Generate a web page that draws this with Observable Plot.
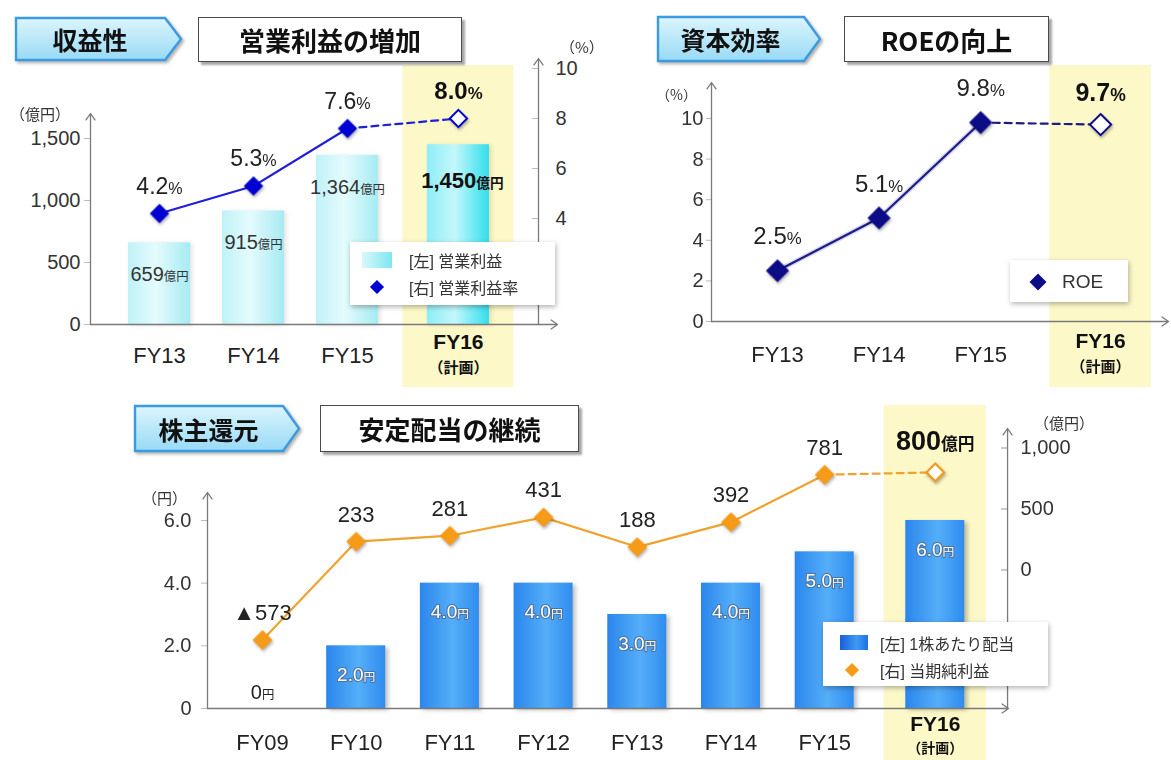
<!DOCTYPE html>
<html>
<head>
<meta charset="utf-8">
<script src="https://cdn.jsdelivr.net/npm/d3@7"></script>
<script src="https://cdn.jsdelivr.net/npm/@observablehq/plot@0.6"></script>
<style>
  html, body { margin: 0; padding: 0; background: #fff; }
  #page { position: relative; width: 1171px; height: 760px; overflow: hidden; background: #fff;
          font-family: "Liberation Sans", "Noto Sans CJK JP", sans-serif; color: #222; }
  .banner { position: absolute; filter: drop-shadow(2px 2px 1.5px rgba(0,0,0,.3)); }
  .banner svg { position: absolute; left: 0; top: 0; overflow: visible; }
  .banner span { position: absolute; left: 0; top: 0; height: 100%; display: flex; align-items: center;
                 justify-content: center; font: bold 25px "Noto Sans CJK JP", sans-serif; color: #111; }
  .tbox { position: absolute; box-sizing: border-box; background: #fff; border: 1.6px solid #4a4a4a;
          box-shadow: 3px 3px 2px rgba(0,0,0,.35); display: flex; align-items: center; justify-content: center;
          font: bold 26px "Noto Sans CJK JP", sans-serif; color: #111; }
  .unit { position: absolute; font-size: 15px; color: #333; white-space: nowrap; transform: translateY(-50%);
          font-family: "Noto Sans CJK JP", "Liberation Sans", sans-serif; }
  .legend { position: absolute; background: #fff; box-shadow: 1px 2px 5px rgba(0,0,0,.3); }
  .legend .lab { position: absolute; white-space: nowrap; transform: translateY(-50%); color: #333;
                 font-size: 16px; font-family: "Liberation Sans", "Noto Sans CJK JP", sans-serif; }
  .legend .sw { position: absolute; }
  .legend .dia { position: absolute; transform: translate(-50%, -50%) rotate(45deg); }
</style>
</head>
<body>
<svg width="0" height="0" style="position:absolute">
  <defs>
    <linearGradient id="gCyan" x1="0" x2="1" y1="0" y2="0">
      <stop offset="0" stop-color="#bff2f7"/>
      <stop offset="0.45" stop-color="#e4fbfd"/>
      <stop offset="1" stop-color="#a6ebf3"/>
    </linearGradient>
    <linearGradient id="gCyanPlan" x1="0" x2="1" y1="0" y2="0">
      <stop offset="0" stop-color="#8eeef6"/>
      <stop offset="0.45" stop-color="#c4f7fb"/>
      <stop offset="1" stop-color="#2fdfec"/>
    </linearGradient>
    <linearGradient id="gBlue" x1="0" x2="1" y1="0" y2="0">
      <stop offset="0" stop-color="#2a86ec"/>
      <stop offset="0.55" stop-color="#55aef8"/>
      <stop offset="1" stop-color="#2f8cef"/>
    </linearGradient>
    <linearGradient id="gBanner" x1="0" x2="0" y1="0" y2="1">
      <stop offset="0" stop-color="#dcf5fd"/>
      <stop offset="1" stop-color="#98daf5"/>
    </linearGradient>
  </defs>
</svg>
<div id="page"></div>
<script>
// ---- data -------------------------------------------------------------
// 営業利益 (億円, left axis) and 営業利益率 (%, right axis)
const opYears = ["FY13", "FY14", "FY15", "FY16"];
const opIncome = [659, 915, 1364, 1450];
const opMargin = [4.2, 5.3, 7.6, 8.0];

// ROE (%)
const roeYears = ["FY13", "FY14", "FY15", "FY16"];
const roeValues = [2.5, 5.1, 9.8, 9.7];

// 1株あたり配当 (円, left axis) and 当期純利益 (億円, right axis)
const divYears = ["FY09", "FY10", "FY11", "FY12", "FY13", "FY14", "FY15", "FY16"];
const dividend = [0, 2.0, 4.0, 4.0, 3.0, 4.0, 5.0, 6.0];
const netIncome = [-573, 233, 281, 431, 188, 392, 781, 800];

const planYear = "FY16";
const planNote = "（計画）";

// axis ticks
const opTicks = [0, 500, 1000, 1500];
const marginTicks = [4, 6, 8, 10];
const roeTicks = [0, 2, 4, 6, 8, 10];
const divTicks = [0, 2, 4, 6];
const netTicks = [0, 500, 1000];

// headings
const titles = {
  op: ["収益性", "営業利益の増加"],
  roe: ["資本効率", "ROEの向上"],
  div: ["株主還元", "安定配当の継続"]
};

// ---- layout -----------------------------------------------------------
const W = 1171, H = 760;
const FONT = '"Liberation Sans", "Noto Sans CJK JP", sans-serif';
const JP = '"Noto Sans CJK JP", "Liberation Sans", sans-serif';
const PLAN_GAP = 0.18;          // extra room before the plan column
const AXIS = "#7a7a7a";

// pixel frames for the three panels
const L1 = {axisLeft: 90, axisRight: 538, xEnd: 557, first: 159, step: 94, base: 324, bandTop: 65, bandBottom: 387};
const L2 = {axisLeft: 711, axisRight: 1168, xEnd: 1168, first: 777, step: 101.6, base: 321, bandTop: 65, bandBottom: 387};
const L3 = {axisLeft: 207, axisRight: 1007, xEnd: 1008, first: 262, step: 93.7, base: 708, bandTop: 405, bandBottom: 760};

// value -> pixel anchors for each vertical scale
const Y1L = {v0: 0, p0: 324, v1: 1500, p1: 138, top: 113};
const Y1R = {v0: 4, p0: 218, v1: 10, p1: 68, top: 58};
const Y2 = {v0: 0, p0: 321, v1: 10, p1: 118, top: 82};
const Y3L = {v0: 0, p0: 708, v1: 6, p1: 520, top: 492};
const Y3R = {v0: 0, p0: 569.5, v1: 1000, p1: 447.5, top: 428};

const layerStyle = {position: "absolute", left: "0px", top: "0px", background: "transparent",
                    overflow: "visible", maxWidth: "none", fontFamily: FONT};

function rows(years, a, b) {
  return years.map((year, i) => {
    const plan = year === planYear;
    return {year, plan, pos: i + (plan ? PLAN_GAP : 0), a: a ? a[i] : undefined, b: b ? b[i] : undefined};
  });
}
function px2v(m, p) { const k = (m.p1 - m.p0) / (m.v1 - m.v0); return m.v0 + (p - m.p0) / k; }
function xScale(L) {
  return {type: "linear", domain: [(L.axisLeft - L.first) / L.step, (L.xEnd - L.first) / L.step],
          range: [L.axisLeft, L.xEnd], axis: null};
}
function yScale(m, bottom) {
  return {type: "linear", domain: [px2v(m, bottom), px2v(m, m.top)], range: [bottom, m.top], label: null};
}
function frame(L) {
  return {width: W, height: H, marginLeft: L.axisLeft, marginRight: W - L.axisRight,
          marginTop: L.bandTop, marginBottom: H - L.bandBottom, style: layerStyle};
}
function arrow(xa, ya, xb, yb) {
  return Plot.arrow([0], {x1: () => xa, y1: () => ya, x2: () => xb, y2: () => yb,
                          stroke: AXIS, strokeWidth: 1.3, headLength: 9, headAngle: 70});
}
function yearLabels(data, yBase, dyYear, dyPlan, dyNote, noteSize = 15) {
  const plan = data.filter(d => d.plan), past = data.filter(d => !d.plan);
  return [
    Plot.text(past, {x: "pos", y: () => yBase, text: "year", dy: dyYear, fontSize: 22, fill: "#222", fontFamily: FONT}),
    Plot.text(plan, {x: "pos", y: () => yBase, text: "year", dy: dyPlan, fontSize: 21, fontWeight: "bold", fill: "#111", fontFamily: FONT}),
    Plot.text(plan, {x: "pos", y: () => yBase, text: () => planNote, dy: dyNote, fontSize: noteSize, fontWeight: "bold", fill: "#111", fontFamily: JP})
  ];
}
// smaller unit suffix (%, 円, 億円) after a value
function styleUnits(svg) {
  const ns = "http://www.w3.org/2000/svg";
  svg.querySelectorAll("text").forEach(t => {
    const m = t.textContent.match(/^([▲\d.,]+)(億円|円|%)$/);
    if (!m) return;
    t.textContent = "";
    const a = document.createElementNS(ns, "tspan");
    a.textContent = m[1];
    const b = document.createElementNS(ns, "tspan");
    b.textContent = m[2];
    b.setAttribute("font-size", m[2] === "%" ? "0.7em" : "0.62em");
    if (m[2] !== "%") b.setAttribute("font-family", JP);
    t.append(a, b);
  });
}
function shadow(svg, desc, css) {
  svg.querySelectorAll(`g[aria-description="${desc}"]`).forEach(g => g.style.filter = css);
}

const page = document.getElementById("page");
function add(svg) { styleUnits(svg); page.append(svg); return svg; }

// ---- panel 1: 営業利益 / 営業利益率 -----------------------------------------
{
  const d = rows(opYears, opIncome, opMargin);
  const xs = xScale(L1), yl = yScale(Y1L, L1.base), yr = yScale(Y1R, L1.base);
  const past = d.filter(r => !r.plan), plan = d.filter(r => r.plan);
  const bars = add(Plot.plot({
    ...frame(L1), x: xs, y: yl,
    marks: [
      Plot.rect(plan, {x1: r => r.pos - 0.59, x2: r => r.pos + 0.59, fill: "#fcf8c8"}),
      Plot.rect(past, {x1: r => r.pos - 0.33, x2: r => r.pos + 0.33, y1: () => 0, y2: "a", fill: "url(#gCyan)", ariaDescription: "bars"}),
      Plot.rect(plan, {x1: r => r.pos - 0.33, x2: r => r.pos + 0.33, y1: () => 0, y2: "a", fill: "url(#gCyanPlan)", ariaDescription: "bars"}),
      Plot.axisY(opTicks, {anchor: "left", tickFormat: d3.format(","), tickSize: 6, tickPadding: 4,
                           fontSize: 20, stroke: "#bbb", fill: "#333", label: null}),
      arrow(xs.domain[0], yl.domain[0], xs.domain[0], yl.domain[1]),
      arrow(xs.domain[0], yl.domain[0], xs.domain[1], yl.domain[0]),
      ...yearLabels(d, 0, 31, 18, 44),
      Plot.text(past, {x: "pos", y: "a", text: r => d3.format(",")(r.a) + "億円", dy: 32, fontSize: 20, fill: "#333"}),
      Plot.text(plan, {x: "pos", y: "a", text: r => d3.format(",")(r.a) + "億円", dy: 36, dx: 4, fontSize: 22, fontWeight: "bold", fill: "#111"})
    ]
  }));
  shadow(bars, "bars", "drop-shadow(2px 1px 2px rgba(0,0,0,.12))");

  const xr = (L1.axisRight - L1.first) / L1.step;
  const line = add(Plot.plot({
    ...frame(L1), x: xs, y: yr,
    marks: [
      Plot.axisY(marginTicks, {anchor: "right", tickSize: -7, tickPadding: 24, fontSize: 20,
                               stroke: "#bbb", fill: "#333", label: null}),
      arrow(xr, yr.domain[0], xr, yr.domain[1]),
      Plot.line(past, {x: "pos", y: "b", stroke: "#1f1fd8", strokeWidth: 2.2}),
      Plot.line(d.slice(-2), {x: "pos", y: "b", stroke: "#1f1fd8", strokeWidth: 2.2, strokeDasharray: "7,5"}),
      Plot.dot(past, {x: "pos", y: "b", symbol: "diamond2", r: 7.8, fill: "#0000d2", stroke: "#0000d2", ariaDescription: "dots"}),
      Plot.dot(plan, {x: "pos", y: "b", symbol: "diamond2", r: 7.8, fill: "#fff", stroke: "#0000d2", strokeWidth: 2, ariaDescription: "dots"}),
      Plot.text(past, {x: "pos", y: "b", text: r => r.b.toFixed(1) + "%", dy: -27, fontSize: 23, fill: "#222"}),
      Plot.text(plan, {x: "pos", y: "b", text: r => r.b.toFixed(1) + "%", dy: -27, fontSize: 24, fontWeight: "bold", fill: "#111"})
    ]
  }));
  shadow(line, "dots", "drop-shadow(1px 2px 1.5px rgba(0,0,0,.3))");
}

// ---- panel 2: ROE ----------------------------------------------------------
{
  const d = rows(roeYears, roeValues);
  const xs = xScale(L2), ys = yScale(Y2, L2.base);
  const past = d.filter(r => !r.plan), plan = d.filter(r => r.plan);
  const svg = add(Plot.plot({
    ...frame(L2), x: xs, y: ys,
    marks: [
      Plot.rect(plan, {x1: r => r.pos - 0.5, x2: r => r.pos + 0.5, fill: "#fcf8c8"}),
      Plot.axisY(roeTicks, {anchor: "left", tickSize: 5, tickPadding: 3, fontSize: 20,
                            stroke: "#bbb", fill: "#333", label: null}),
      arrow(xs.domain[0], ys.domain[0], xs.domain[0], ys.domain[1]),
      arrow(xs.domain[0], ys.domain[0], xs.domain[1], ys.domain[0]),
      ...yearLabels(d, 0, 33, 20, 46),
      Plot.line(past, {x: "pos", y: "a", stroke: "#d6d6ee", strokeWidth: 5}),
      Plot.line(past, {x: "pos", y: "a", stroke: "#1c1c84", strokeWidth: 2.2}),
      Plot.line(d.slice(-2), {x: "pos", y: "a", stroke: "#1c1c84", strokeWidth: 2.2, strokeDasharray: "7,5"}),
      Plot.dot(past, {x: "pos", y: "a", symbol: "diamond2", r: 9.5, fill: "#0c0c86", stroke: "#0c0c86", ariaDescription: "dots"}),
      Plot.dot(plan, {x: "pos", y: "a", symbol: "diamond2", r: 9.5, fill: "#fff", stroke: "#0c0c86", strokeWidth: 2, ariaDescription: "dots"}),
      Plot.text(past, {x: "pos", y: "a", text: r => r.a.toFixed(1) + "%", dy: -34, fontSize: 24, fill: "#222"}),
      Plot.text(plan, {x: "pos", y: "a", text: r => r.a.toFixed(1) + "%", dy: -32, fontSize: 25, fontWeight: "bold", fill: "#111"})
    ]
  }));
  shadow(svg, "dots", "drop-shadow(1px 2px 1.5px rgba(0,0,0,.3))");
}

// ---- panel 3: 配当 / 当期純利益 --------------------------------------------
{
  const d = rows(divYears, dividend, netIncome);
  const xs = xScale(L3), yl = yScale(Y3L, L3.base), yr = yScale(Y3R, L3.base);
  const past = d.filter(r => !r.plan), plan = d.filter(r => r.plan);
  const paid = d.filter(r => r.a > 0), none = d.filter(r => r.a === 0);
  const bars = add(Plot.plot({
    ...frame(L3), x: xs, y: yl,
    marks: [
      Plot.rect(plan, {x1: r => r.pos - 0.545, x2: r => r.pos + 0.545, fill: "#fcf8c8"}),
      Plot.rect(paid, {x1: r => r.pos - 0.315, x2: r => r.pos + 0.315, y1: () => 0, y2: "a", fill: "url(#gBlue)", ariaDescription: "bars"}),
      Plot.axisY(divTicks, {anchor: "left", tickFormat: v => v === 0 ? "0" : v.toFixed(1), tickSize: 6, tickPadding: 10,
                            fontSize: 20, stroke: "#bbb", fill: "#333", label: null}),
      arrow(xs.domain[0], yl.domain[0], xs.domain[0], yl.domain[1]),
      arrow(xs.domain[0], yl.domain[0], xs.domain[1], yl.domain[0]),
      ...yearLabels(d, 0, 34, 16, 40, 14),
      Plot.text(paid, {x: "pos", y: "a", text: r => r.a.toFixed(1) + "円", dy: 29, fontSize: 19, fill: "#fff",
                       stroke: "#4d73a0", strokeWidth: 2.2, paintOrder: "stroke"}),
      Plot.text(none, {x: "pos", y: "a", text: () => "0円", dy: -16, fontSize: 20, fill: "#222"})
    ]
  }));
  shadow(bars, "bars", "drop-shadow(3px 2px 2px rgba(0,0,0,.25))");

  const netFmt = v => v < 0 ? "▲" + (-v) : String(v);
  const line = add(Plot.plot({
    ...frame(L3), x: xs, y: yr,
    marks: [
      Plot.axisY(netTicks, {anchor: "right", tickFormat: d3.format(","), tickSize: -7, tickPadding: 20,
                            fontSize: 20, stroke: "#999", fill: "#333", label: null}),
      arrow(xs.domain[1] - 0.01, yr.domain[0], xs.domain[1] - 0.01, yr.domain[1]),
      Plot.line(past, {x: "pos", y: "b", stroke: "#f0a22e", strokeWidth: 2.2}),
      Plot.line(d.slice(-2), {x: "pos", y: "b", stroke: "#f0a22e", strokeWidth: 2.2, strokeDasharray: "7,5"}),
      Plot.dot(past, {x: "pos", y: "b", symbol: "diamond2", r: 8, fill: "#f59b17", stroke: "#f59b17", ariaDescription: "dots"}),
      Plot.dot(plan, {x: "pos", y: "b", symbol: "diamond2", r: 8, fill: "#fff", stroke: "#f59b17", strokeWidth: 2.2, ariaDescription: "dots"}),
      Plot.text(past, {x: "pos", y: "b", text: r => netFmt(r.b), dy: -27, fontSize: 22, fill: "#222"}),
      Plot.text(plan, {x: "pos", y: "b", text: r => netFmt(r.b) + "億円", dy: -31, fontSize: 27, fontWeight: "bold", fill: "#111"})
    ]
  }));
  shadow(line, "dots", "drop-shadow(1px 2px 1.5px rgba(0,0,0,.3))");
}

// ---- headings, unit labels, legends ---------------------------------------
function banner(x, y, w, h, label, tip = 17) {
  const el = document.createElement("div");
  el.className = "banner";
  el.style.cssText = `left:${x}px;top:${y}px;width:${w}px;height:${h}px`;
  el.innerHTML = `<svg width="${w}" height="${h}"><polygon points="1,1 ${w - tip},1 ${w - 1},${h / 2} ${w - tip},${h - 1} 1,${h - 1}" fill="url(#gBanner)" stroke="#3a9be2" stroke-width="2.4"/></svg><span style="width:${w - tip}px">${label}</span>`;
  page.append(el);
}
function titleBox(x, y, w, h, label) {
  const el = document.createElement("div");
  el.className = "tbox";
  el.style.cssText = `left:${x}px;top:${y}px;width:${w}px;height:${h}px`;
  el.textContent = label;
  page.append(el);
}
function unit(x, y, label, size) {
  const el = document.createElement("div");
  el.className = "unit";
  el.style.left = x + "px"; el.style.top = y + "px";
  if (size) el.style.fontSize = size + "px";
  el.textContent = label;
  page.append(el);
}
function legend(x, y, w, h, html) {
  const el = document.createElement("div");
  el.className = "legend";
  el.style.cssText = `left:${x}px;top:${y}px;width:${w}px;height:${h}px`;
  el.innerHTML = html;
  page.append(el);
}

banner(15, 17, 167, 44, titles.op[0]);
titleBox(198, 17, 264, 45, titles.op[1]);
banner(657, 16, 164, 46, titles.roe[0]);
titleBox(844, 16, 205, 46, titles.roe[1]);
banner(134, 405, 166, 47, titles.div[0]);
titleBox(320, 405, 259, 47, titles.div[1]);

unit(10, 113, "（億円）");
unit(560, 46, "（%）");
unit(656, 94, "（%）", 14);
unit(142, 497, "（円）");
unit(1034, 422, "（億円）");

legend(350, 242, 205, 63,
  `<div class="sw" style="left:12px;top:10px;width:30px;height:16px;background:linear-gradient(90deg,#d8f8fb,#7ee7f1)"></div>
   <div class="lab" style="left:59px;top:18px">[左] 営業利益</div>
   <div class="dia" style="left:27px;top:45px;width:10px;height:10px;background:#0000d2"></div>
   <div class="lab" style="left:59px;top:45px">[右] 営業利益率</div>`);
legend(1010, 260, 118, 42,
  `<div class="dia" style="left:28px;top:22px;width:12px;height:12px;background:#0c0c86"></div>
   <div class="lab" style="left:52px;top:22px;font-size:19px">ROE</div>`);
legend(823, 622, 225, 64,
  `<div class="sw" style="left:17px;top:13px;width:28px;height:15px;background:linear-gradient(90deg,#1a5fdc,#3d9af5 60%,#1f6fe6)"></div>
   <div class="lab" style="left:57px;top:21px">[左] 1株あたり配当</div>
   <div class="dia" style="left:29px;top:48px;width:10px;height:10px;background:#f59b17"></div>
   <div class="lab" style="left:57px;top:48px">[右] 当期純利益</div>`);
</script>
</body>
</html>
